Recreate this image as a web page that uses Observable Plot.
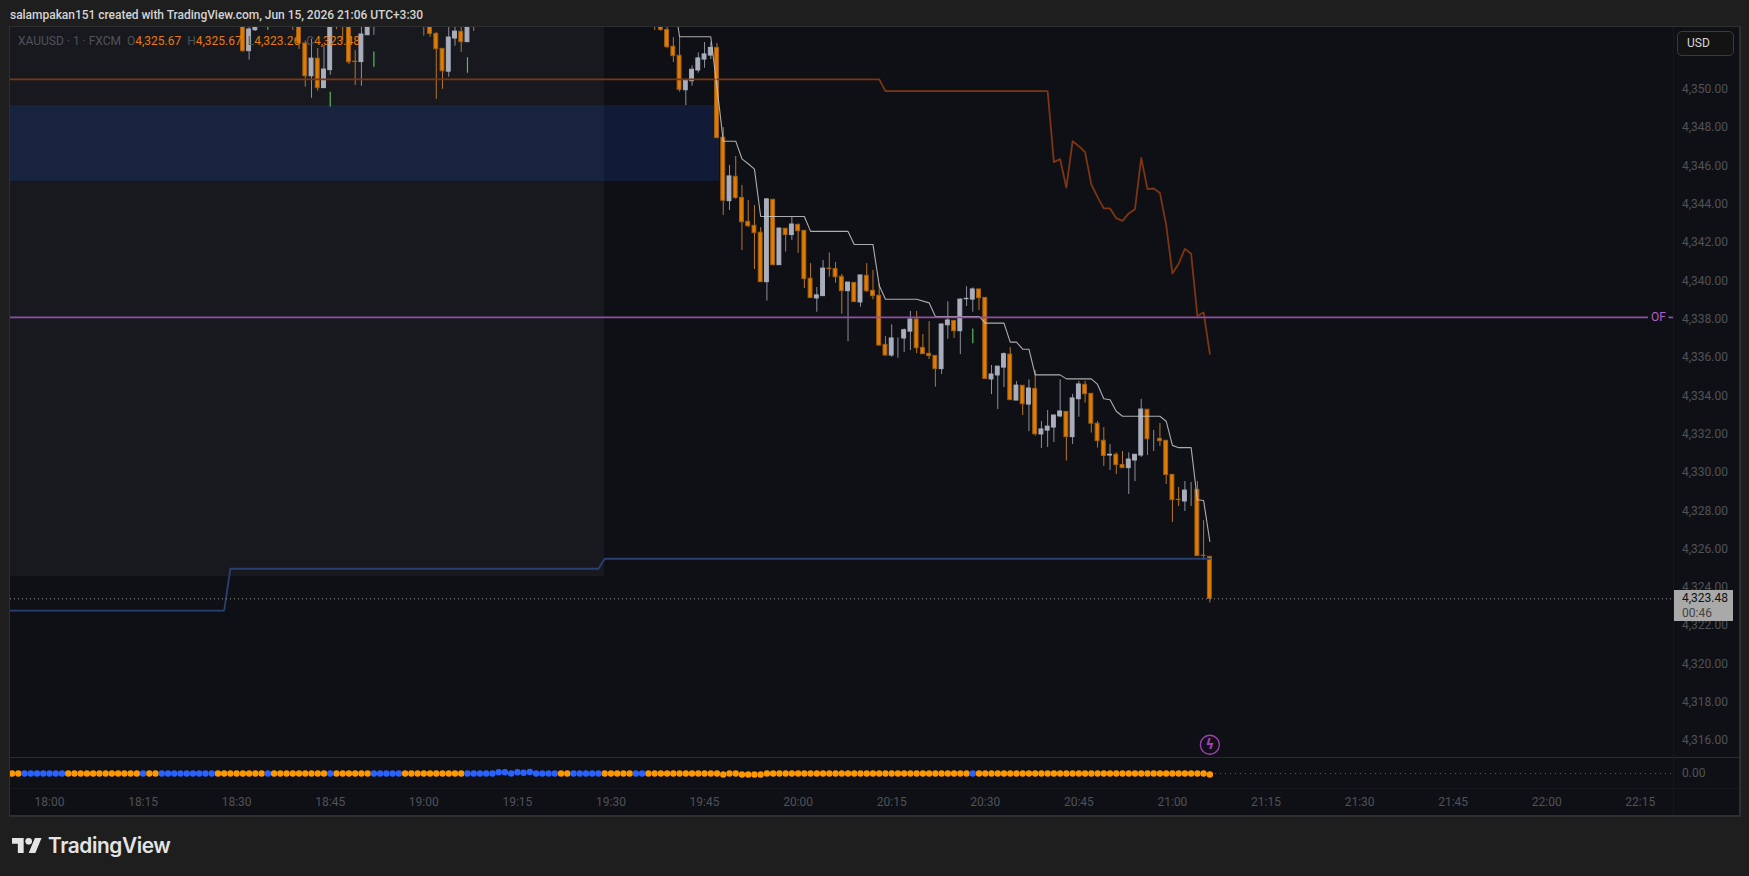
<!DOCTYPE html>
<html><head><meta charset="utf-8">
<script src="https://cdn.jsdelivr.net/npm/d3@7"></script>
<script src="https://cdn.jsdelivr.net/npm/@observablehq/plot@0.6"></script>
<style>
html,body{margin:0;padding:0;background:#1e1e1e;overflow:hidden}
#page{position:relative;width:1749px;height:876px;background:#1e1e1e;font-family:Roboto,sans-serif}
.abs{position:absolute}
#head{left:10px;top:7px;color:#d4d4d4;font-size:12px;font-weight:500;line-height:16px;white-space:nowrap;letter-spacing:-.03px}
#legend{left:18px;top:33px;font-size:12px;line-height:16px;color:#505259;white-space:pre}
#legend b{font-weight:400;color:#e57b0c}
#usd{left:1677px;top:31px;width:57px;height:25px;box-sizing:border-box;border:1px solid #3a3b3e;border-radius:5px;background:#131313;color:#d8d8d8;font-size:12px;line-height:23px;padding-left:9px}
#tag{left:1674px;top:590px;width:59px;height:31px;background:#a9a9a9;font-size:12px;line-height:15px;padding:1px 0 0 8px;box-sizing:border-box;color:#111}
#tag span{color:#444}
#logo{left:12px;top:838px;display:flex;align-items:center;color:#e4e4e4}
#logo div{font-family:Inter,Roboto,sans-serif;font-size:20.8px;font-weight:600;letter-spacing:-.4px;margin-left:6px;line-height:15px}
</style></head><body>
<div id="page">
  <div class="abs" id="mainHost" style="left:10px;top:27px"></div>
  <div class="abs" id="oscHost" style="left:10px;top:757px"></div>
  <div class="abs" style="left:9px;top:26px;width:1729px;height:788px;border:1px solid #2e2f31;border-right-width:2px;border-bottom-width:2px"></div>
  <div class="abs" style="left:10px;top:757px;width:1729px;height:1px;background:#2a2b30"></div>
  <div class="abs" style="left:10px;top:788px;width:1729px;height:1px;background:#17181d"></div>
  <div class="abs" style="left:1673px;top:27px;width:1px;height:788px;background:#17181d"></div>
  <div class="abs" id="head">salampakan151 created with TradingView.com, Jun 15, 2026 21:06 UTC+3:30</div>
  <div class="abs" id="legend">XAUUSD · 1 · FXCM  O<b>4,325.67</b>  H<b>4,325.67</b>  L<b>4,323.26</b>  C<b>4,323.48</b></div>
  <div class="abs" id="usd">USD</div>
  <div class="abs" id="tag">4,323.48<br><span>00:46</span></div>
  <div class="abs" id="logo"><svg width="30" height="15" viewBox="0 4 36 18" preserveAspectRatio="none"><path fill="#e4e4e4" d="M14 22H7V11H0V4h14v18zM28 22h-8l7.5-18h8L28 22z"/><circle fill="#e4e4e4" cx="20" cy="8" r="4"/></svg><div>TradingView</div></div>
</div>
<script>
// minutes after 18:00
const candleT=[31,32,33,39,40,41,42,43,44,45,46,47,48,49,50,51,52,58,60,61,62,63,64,65,66,67,68,
97,98,99,100,101,102,103,104,105,106,107,108,109,110,111,112,113,114,115,116,117,118,119,120,121,122,123,124,125,126,127,128,129,130,131,132,133,134,135,136,137,138,139,140,141,142,143,144,145,146,147,148,149,150,151,152,153,154,155,156,157,158,159,160,161,162,163,164,165,166,167,168,169,170,171,172,173,174,175,176,177,178,179,180,181,182,183,184,185,186];
const openP=[4353.6,4352.07,4353.16,4354.4,4354,4352.47,4350.76,4351.68,4350.14,4351.08,4354.2,4354.4,4353.7,4351.52,4351.5,4352.9,4353.6,4354,4354.2,4353.6,4352.97,4352.19,4351,4352.73,4353.08,4352.54,4354,
4354,4353.5,4353.18,4352.3,4351.83,4350.03,4350.5,4351.06,4351.63,4351.84,4352.24,4347.55,4344.24,4345.51,4344.41,4343.16,4342.95,4342.59,4340.01,4344.31,4340.9,4342.8,4342.47,4343,4342.69,4340.19,4339.16,4339.28,4340.72,4340.7,4340.29,4339.54,4339.97,4338.95,4340.34,4339.56,4339.3,4336.74,4336.18,4337.1,4337.07,4337.43,4338.06,4336.58,4336.27,4336.16,4335.47,4337.76,4337.99,4337.45,4339.12,4339.1,4339.63,4339.19,4334.93,4335.14,4335.55,4336.23,4333.83,4334.6,4333.62,4334.44,4332.06,4332.26,4332.42,4333,4333.24,4331.92,4333.9,4334.65,4334.18,4332.62,4331.73,4330.96,4331,4330.47,4330.3,4330.7,4330.96,4333.35,4331.83,4331.83,4331.73,4329.95,4328.65,4328.56,4329.17,4329.17,4325.73,4325.67];
const highP=[4354,4353.7,4354,4354.6,4354.3,4352.6,4352.7,4352.21,4352.36,4353.8,4354.4,4354.6,4354,4352.1,4353.4,4354,4354,4354.2,4354.4,4353.8,4353.04,4352.19,4353.3,4353.5,4353.5,4354,4354.2,
4354.2,4353.7,4353.4,4352.77,4352.8,4350.62,4351.3,4351.98,4352.52,4352.5,4352.47,4348.08,4346.1,4346.57,4345.06,4344.28,4344.01,4342.86,4344.38,4344.33,4342.81,4342.8,4343.4,4343.05,4342.69,4340.98,4339.73,4341.14,4341.54,4341.04,4340.41,4339.99,4339.97,4340.36,4340.98,4340.62,4339.92,4337.17,4337.78,4337.1,4337.57,4338.48,4338.48,4337.28,4337.95,4336.16,4337.83,4338.98,4337.99,4339.14,4339.77,4339.71,4339.63,4339.19,4335.66,4335.6,4336.32,4336.6,4334.82,4334.6,4334.91,4335.4,4332.73,4333.31,4333.05,4334.91,4333.24,4334.15,4334.83,4334.83,4334.18,4332.74,4332.42,4331.54,4331.1,4331.17,4331.1,4331,4333.89,4333.35,4332.27,4332.63,4331.73,4329.95,4329.29,4329.6,4329.55,4329.6,4327.57,4325.67];
const lowP=[4352,4351.6,4353.1,4353.15,4352.15,4350.19,4349.61,4349.98,4350.14,4350.81,4353.2,4352.59,4351.37,4350.28,4350.24,4352.9,4352.9,4353.3,4352.85,4352.8,4349.56,4350.08,4350.71,4352.33,4352,4352.54,4353.1,
4353.15,4353.1,4352.2,4351.48,4349.93,4349.23,4350.24,4350.92,4351.18,4351.63,4347.5,4343.49,4343.75,4344.33,4341.66,4342.86,4340.67,4340.01,4339.02,4340.86,4340.9,4341.58,4342.19,4341.52,4339.68,4339.18,4338.44,4339.28,4340.27,4339.96,4338.34,4336.9,4338.97,4338.7,4339.47,4339.09,4336.7,4336.15,4336.09,4336.04,4336.34,4336.44,4336.28,4336.25,4335.97,4334.53,4335.19,4337.03,4337.07,4336.23,4338.74,4338.44,4338.53,4334.96,4334.14,4333.36,4334.51,4333.85,4333.83,4333.05,4332.21,4331.97,4331.33,4331.38,4331.64,4332.93,4330.67,4331.54,4332.96,4333.69,4332.13,4331.35,4330.39,4330.18,4329.97,4330.3,4328.93,4329.6,4330.86,4330.96,4331.17,4331.43,4329.45,4327.46,4328.3,4328.04,4328.3,4325.71,4325.48,4323.26];
const closeP=[4352.07,4353.2,4354,4354,4352.47,4350.76,4351.68,4350.14,4351.11,4353.5,4353.8,4353.8,4351.49,4351.5,4352.94,4353.6,4353.9,4353.7,4353.8,4352.97,4352.17,4351.02,4352.78,4353.09,4352.54,4353.6,4353.6,
4353.36,4353.18,4352.28,4351.81,4350.05,4350.54,4351.1,4351.69,4351.9,4352.24,4347.53,4344.26,4345.53,4344.4,4343.14,4342.93,4342.57,4340.01,4344.33,4340.9,4342.81,4342.47,4343.02,4342.67,4340.17,4339.18,4339.32,4340.72,4340.69,4340.27,4339.54,4339.99,4338.97,4340.36,4339.54,4339.28,4336.7,4336.18,4337.07,4337.1,4337.5,4338.06,4336.56,4336.25,4336.15,4335.47,4337.8,4338.01,4337.45,4339.1,4339.14,4339.63,4339.17,4334.96,4335.19,4335.6,4336.25,4333.85,4334.61,4333.64,4334.46,4332.07,4332.32,4332.47,4333.05,4333.26,4331.92,4333.94,4334.67,4334.16,4332.62,4331.71,4330.93,4331,4330.46,4330.3,4330.75,4331,4333.36,4331.81,4331.83,4331.71,4329.94,4328.63,4328.63,4329.13,4329.17,4325.71,4325.72,4323.48];
const greenT=[35,45,52,67,148];
const greenLow=[4353.16,4349.16,4351.23,4350.92,4336.79];
const greenHigh=[4353.5,4349.93,4352.03,4351.72,4337.57];
const trailT=[100,101,106,107,108,110,111,112,113,114,121,122,128,129,132,133,134,139,141,142,149,150,153,154,155,156,157,158,162,163,167,168,169,170,171,172,178,179,180,181,183,184,185,186];
const trailP=[4355,4352.82,4352.82,4350.19,4347.37,4347.37,4346.45,4346.19,4345.91,4343.44,4343.44,4342.66,4342.66,4341.98,4341.98,4339.84,4339.12,4339.12,4338.93,4338.22,4338.22,4337.87,4337.87,4336.88,4336.88,4336.51,4336.51,4335.17,4335.17,4334.96,4334.96,4334.67,4333.92,4333.87,4333.27,4333.01,4333.01,4332.75,4331.49,4331.37,4331.37,4328.65,4328.61,4326.47];
const brownT=[-8,133,134,160,161,162,163,164,165,166,167,168,169,170,171,172,173,174,175,176,177,178,179,180,181,182,183,184,185,186];
const brownP=[4350.6,4350.6,4349.98,4349.98,4346.28,4346.43,4344.94,4347.37,4347.11,4346.8,4345.11,4344.45,4343.86,4343.86,4343.35,4343.21,4343.6,4343.82,4346.5,4344.87,4344.9,4344.66,4343,4340.46,4340.97,4341.75,4341.49,4338.25,4338.43,4336.27];
const blueT=[-8,28,29,88,89,186];
const blueP=[4322.86,4322.86,4325.05,4325.05,4325.57,4325.57];
const ofPrice=4338.17, lastPrice=4323.48;
const priceTicks=[4316,4318,4320,4322,4324,4326,4328,4330,4332,4334,4336,4338,4340,4342,4344,4346,4348,4350];
const timeTicks=[0,15,30,45,60,75,90,105,120,135,150,165,180,195,210,225,240,255];
const timeLabels=["18:00","18:15","18:30","18:45","19:00","19:15","19:30","19:45","20:00","20:15","20:30","20:45","21:00","21:15","21:30","21:45","22:00","22:15"];
const blueMinutes=[-4,-3,-2,-1,0,1,2,15,18,19,20,21,22,23,24,25,26,35,45,52,53,54,55,56,67,68,69,70,71,72,73,74,75,76,77,78,79,80,81,84,85,86,87,88,94,95,148];
const oscBumpT=[72,73,75,76,77,108,111,112,113,114,186];
const oscBumpV=[.08,.08,.08,.05,.1,-.07,-.07,-.07,-.07,-.07,-.07];

const xDomain=[-6.25,260.4];
const yDomain=[4353.305,4315.195];
const font="Roboto,sans-serif", axisColor="#505258";
const ORANGE="#e07c06", ORANGE_EDGE="#a3600f", ORANGE_WICK="#b4762e", GRAY="#a9aebd", GRAY_WICK="#8b8f9c", GREEN="#5cb860";

const candles=candleT.map((t,i)=>({t,o:openP[i],h:highP[i],l:lowP[i],c:closeP[i],up:closeP[i]>=openP[i]}));
const greens=greenT.map((t,i)=>({t,low:greenLow[i],high:greenHigh[i]}));
const series=(ts,ps)=>ts.map((t,i)=>({t,p:ps[i]}));
const up=candles.filter(d=>d.up), down=candles.filter(d=>!d.up);

const main=Plot.plot({
  width:1729,height:730,marginTop:0,marginBottom:0,marginLeft:0,marginRight:65.5,
  style:{background:"#0f1015",fontFamily:font,fontSize:"12px",color:axisColor},
  x:{domain:xDomain,axis:null},
  y:{domain:yDomain,range:[0,730],axis:null},
  marks:[
    Plot.rect([{}],{x1:xDomain[0],x2:89,y1:4353.305,y2:4324.64,fill:"#fff",fillOpacity:.04}),
    Plot.rect([{}],{x1:xDomain[0],x2:107.4,y1:4349.23,y2:4345.27,fill:"#194cc4",fillOpacity:.2}),
    Plot.ruleX(down,{x:"t",y1:"l",y2:"h",stroke:ORANGE_WICK,strokeWidth:1,clip:true}),
    Plot.ruleX(up,{x:"t",y1:"l",y2:"h",stroke:GRAY_WICK,strokeWidth:1,clip:true}),
    Plot.rect(down,{x1:d=>d.t-.31,x2:d=>d.t+.31,y1:"o",y2:"c",fill:ORANGE,stroke:ORANGE_EDGE,strokeWidth:1,clip:true}),
    Plot.rect(up,{x1:d=>d.t-.31,x2:d=>d.t+.31,y1:"o",y2:"c",fill:GRAY,stroke:GRAY,strokeWidth:1,clip:true}),
    Plot.ruleX(greens,{x:"t",y1:"low",y2:"high",stroke:GREEN,strokeWidth:1.2,clip:true}),
    Plot.line(series(brownT,brownP),{x:"t",y:"p",stroke:"#7d3611",strokeWidth:1.8,clip:true}),
    Plot.line(series(blueT,blueP),{x:"t",y:"p",stroke:"#2a3f72",strokeWidth:1.8,clip:true}),
    Plot.line(series(trailT,trailP),{x:"t",y:"p",stroke:"#c8c8c8",strokeOpacity:.85,strokeWidth:1.1,clip:true}),
    Plot.ruleY([ofPrice],{x1:xDomain[0],x2:256.3,stroke:"#8f4fa3",strokeWidth:1.7}),
    Plot.ruleY([ofPrice],{x1:259.6,x2:260.4,stroke:"#8f4fa3",strokeWidth:1.7}),
    Plot.text(["OF"],{x:[257.9],y:[ofPrice],text:d=>d,fill:"#b45fc8",fontSize:12}),
    Plot.ruleY([lastPrice],{x1:xDomain[0],x2:xDomain[1],stroke:"#9a9a9a",strokeDasharray:"1 3"}),
    Plot.dot([{}],{x:186,y:4315.86,r:9.5,stroke:"#a23fb5",strokeWidth:1.3}),
    Plot.text(["ϟ"],{x:[186],y:[4315.86],text:d=>d,fill:"#a23fb5",fontSize:14,fontWeight:700,fontFamily:"DejaVu Sans"}),
    Plot.axisY(priceTicks,{anchor:"right",tickSize:0,tickPadding:8,tickFormat:d3.format(",.2f"),label:null,fill:axisColor,fontSize:12,dy:-1.5})
  ]
});
document.getElementById("mainHost").append(main);

const oscRows=d3.range(-6,187).map(t=>{
  const k=oscBumpT.indexOf(t);
  return {t,v:k<0?0:oscBumpV[k],blue:blueMinutes.includes(t)};
});
const osc=Plot.plot({
  width:1729,height:58,marginTop:0,marginBottom:27,marginLeft:0,marginRight:65.5,
  style:{background:"#0f1015",fontFamily:font,fontSize:"12px",color:axisColor},
  x:{domain:xDomain,axis:null},
  y:{domain:[-1,1],range:[31,1],axis:null},
  marks:[
    Plot.ruleY([0],{x1:xDomain[0],x2:xDomain[1],stroke:"#5a5a5a",strokeDasharray:"1 4"}),
    Plot.dot(oscRows.filter(d=>!d.blue),{x:"t",y:"v",r:3.2,fill:"#ff9800"}),
    Plot.dot(oscRows.filter(d=>d.blue),{x:"t",y:"v",r:3.2,fill:"#2962ff"}),
    Plot.axisY([0],{anchor:"right",tickSize:0,tickPadding:8,tickFormat:d3.format(".2f"),label:null,fill:axisColor,fontSize:12}),
    Plot.axisX(timeTicks,{anchor:"bottom",tickSize:0,tickPadding:9,tickFormat:d=>timeLabels[timeTicks.indexOf(d)],label:null,fill:axisColor,fontSize:12})
  ]
});
document.getElementById("oscHost").append(osc);
</script>
</body></html>
